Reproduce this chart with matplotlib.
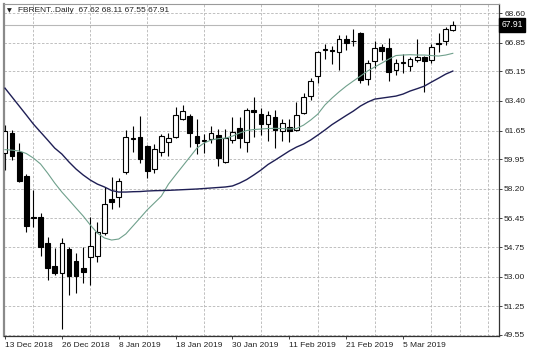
import numpy as np
import matplotlib
matplotlib.use("Agg")
import matplotlib.pyplot as plt
import matplotlib.transforms as mtransforms

plt.rcParams['font.family'] = ['Liberation Sans', 'DejaVu Sans']

# daily bars, 13 Dec 2018 .. 14 Mar 2019
opens = [60.32, 61.52, 60.39, 58.96, 56.55, 56.51, 54.98, 53.63, 53.20, 54.62,
         53.94, 53.50, 54.15, 54.22, 55.60, 57.61, 57.70, 59.22, 61.15, 61.24,
         60.73, 59.36, 60.39, 60.98, 61.29, 62.32, 62.51, 61.32, 61.05, 61.13,
         61.38, 59.81, 61.09, 61.78, 60.99, 62.86, 62.62, 62.03, 62.47, 61.65,
         61.84, 61.68, 62.67, 63.69, 64.87, 66.42, 66.42, 66.32, 67.05, 66.93,
         67.43, 64.73, 65.74, 66.59, 66.51, 65.23, 65.62, 65.47, 65.82, 66.02,
         65.82, 66.86, 66.96, 67.62]
highs = [61.97, 61.68, 60.90, 59.10, 58.13, 56.75, 55.37, 54.68, 55.27, 54.77,
         54.38, 54.77, 56.55, 56.26, 58.32, 58.92, 58.82, 61.68, 61.91, 62.51,
         60.80, 60.85, 61.47, 61.52, 63.06, 63.16, 62.63, 62.32, 61.47, 61.92,
         61.72, 61.72, 62.46, 62.43, 62.96, 63.65, 62.96, 62.82, 62.86, 62.32,
         62.32, 63.36, 63.85, 64.79, 66.37, 66.80, 66.64, 67.30, 67.29, 67.69,
         67.47, 65.82, 66.94, 66.80, 67.15, 65.86, 66.21, 66.02, 67.04, 66.05,
         66.80, 67.45, 67.78, 68.11]
lows = [59.31, 59.90, 58.62, 55.66, 55.96, 54.22, 52.80, 53.10, 49.89, 51.92,
        52.02, 52.65, 52.51, 53.89, 55.47, 56.98, 57.12, 59.08, 60.39, 59.75,
        58.82, 59.16, 60.14, 60.14, 61.18, 62.28, 60.69, 60.26, 60.33, 60.90,
        59.55, 59.75, 60.90, 60.59, 60.40, 61.29, 61.38, 61.05, 60.59, 61.05,
        60.99, 61.65, 62.63, 63.45, 64.44, 65.91, 65.61, 65.22, 66.41, 66.65,
        64.48, 64.34, 65.34, 65.82, 64.56, 64.93, 65.04, 65.19, 65.72, 63.95,
        65.62, 66.32, 66.71, 67.55]
closes = [61.64, 60.14, 58.68, 56.00, 56.48, 54.77, 53.50, 53.20, 54.98, 53.04,
          53.04, 53.26, 54.81, 55.66, 57.30, 57.41, 58.68, 61.25, 61.20, 59.94,
          59.28, 60.54, 61.32, 61.18, 62.57, 62.83, 61.48, 60.94, 61.12, 61.52,
          60.00, 61.18, 61.58, 61.19, 62.86, 62.72, 62.03, 62.57, 61.68, 62.12,
          61.65, 62.57, 63.65, 64.58, 66.32, 66.47, 66.38, 67.05, 66.85, 66.98,
          64.64, 65.62, 66.51, 66.37, 65.09, 65.66, 65.68, 65.86, 66.02, 65.79,
          66.59, 66.78, 67.69, 67.91]

# moving averages
ma_fast = [60.52, 60.49, 60.44, 60.29, 60.02, 59.67, 59.13, 58.54, 58.01, 57.54,
           57.06, 56.59, 56.06, 55.58, 55.29, 55.17, 55.23, 55.53, 56.00, 56.47,
           56.95, 57.36, 57.77, 58.48, 59.02, 59.55, 60.08, 60.61, 60.91, 61.09,
           61.17, 61.20, 61.32, 61.50, 61.65, 61.71, 61.74, 61.77, 61.78, 61.77,
           61.74, 61.77, 61.97, 62.27, 62.62, 63.16, 63.57, 63.94, 64.28, 64.58,
           64.87, 65.17, 65.41, 65.64, 65.88, 66.09, 66.12, 66.14, 66.12, 66.12,
           66.09, 66.06, 66.12, 66.22]
ma_slow = [64.16, 63.63, 63.10, 62.57, 62.03, 61.56, 61.09, 60.61, 60.26, 59.79,
           59.37, 59.02, 58.72, 58.48, 58.31, 58.10, 58.01, 58.01, 58.03, 58.04,
           58.07, 58.09, 58.10, 58.11, 58.13, 58.15, 58.17, 58.19, 58.22, 58.25,
           58.28, 58.31, 58.37, 58.54, 58.75, 59.02, 59.31, 59.64, 59.90, 60.17,
           60.44, 60.67, 60.85, 61.09, 61.38, 61.68, 62.00, 62.27, 62.54, 62.80,
           63.10, 63.33, 63.51, 63.57, 63.63, 63.69, 63.81, 63.99, 64.13, 64.28,
           64.52, 64.75, 64.99, 65.17]

date_labels = ['13 Dec 2018', '26 Dec 2018', '8 Jan 2019', '18 Jan 2019',
               '30 Jan 2019', '11 Feb 2019', '21 Feb 2019', '5 Mar 2019']
price_labels = ['49.55', '51.25', '53.00', '54.75', '56.45', '58.20',
                '59.95', '61.65', '63.40', '65.15', '66.85', '68.60']
last_price = 67.91

o = np.array(opens)
h = np.array(highs)
l = np.array(lows)
c = np.array(closes)
idx = np.arange(len(o))

fig = plt.figure(figsize=(5.36, 3.58), dpi=100)
ax = fig.add_axes([4 / 536, 22 / 358, 495 / 536, 332.5 / 358])

# grid every 4 bars, like the terminal does
ax.set_xticks(np.arange(0, 72, 4), minor=True)
ax.grid(True, which='minor', axis='x', color='#b5b5b5', lw=0.6, ls=(0, (3, 2)))
ax.grid(True, which='major', axis='y', color='#b5b5b5', lw=0.6, ls=(0, (3, 2)))
ax.tick_params(axis='x', which='minor', length=0)

# candles
up = c >= o
ax.vlines(idx, l, h, color='black', lw=0.8, zorder=2)
body_lo = np.minimum(o, c)
body_h = np.maximum(np.abs(c - o), 0.02)
ax.bar(idx[up], body_h[up], bottom=body_lo[up], width=0.66,
       facecolor='white', edgecolor='black', lw=0.8, zorder=3)
ax.bar(idx[~up], body_h[~up], bottom=body_lo[~up], width=0.66,
       facecolor='black', edgecolor='black', lw=0.8, zorder=3)

ax.plot(idx, ma_fast, color='#6fa08c', lw=0.8, zorder=4)
ax.plot(idx, ma_slow, color='#1f1f55', lw=1.0, zorder=4)

ax.axhline(last_price, color='#b8b8b8', lw=0.8, zorder=1)

ax.set_xlim(-0.14, 69.5)
ax.set_ylim(49.49, 69.17)

ax.set_xticks(idx[::8][:len(date_labels)])
ax.set_xticklabels(date_labels, ha='left', fontsize=6)
ax.set_yticks([float(s) for s in price_labels])
ax.set_yticklabels(price_labels, fontsize=6)
ax.yaxis.tick_right()
ax.tick_params(axis='y', which='major', length=2.2, width=0.6, pad=1.5, colors='#222222')
ax.tick_params(axis='x', which='major', length=2.2, width=0.6, pad=2, colors='#222222')

for side in ['right', 'bottom']:
    ax.spines[side].set_color('#333333')
    ax.spines[side].set_linewidth(0.9)
ax.spines['left'].set_color('#8a8a8a')
ax.spines['left'].set_linewidth(1.6)
ax.spines['top'].set_color('#9a9a9a')
ax.spines['top'].set_linewidth(0.8)

# current price tag
trans = mtransforms.blended_transform_factory(ax.transAxes, ax.transData)
ax.text(1.005, last_price, f'{last_price:.2f}', transform=trans, ha='left', va='center',
        fontsize=6.2, color='white', clip_on=False,
        bbox=dict(boxstyle='square,pad=0.3', facecolor='black', edgecolor='black'))

# header
fig.text(7 / 536, 1 - 11 / 358, '\u25bc', fontsize=4.5, va='center', ha='left',
         family='DejaVu Sans', color='#222222')
fig.text(18 / 536, 1 - 11 / 358,
         f'FBRENT..Daily  {opens[-1]:.2f} {highs[-1]:.2f} {lows[-1]:.2f} {closes[-1]:.2f}',
         fontsize=6, va='center', ha='left', color='#222222')

fig.savefig('out.png', dpi=100, facecolor='white')
